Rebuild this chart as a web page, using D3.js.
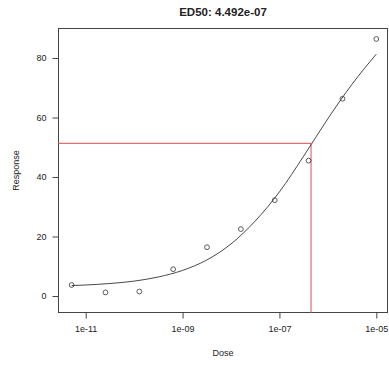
<!DOCTYPE html>
<html>
<head>
<meta charset="utf-8">
<script src="https://cdn.jsdelivr.net/npm/d3@7"></script>
<style>
  body { margin: 0; background: #fff; }
  text { font-family: "Liberation Sans", Arial, sans-serif; fill: #222; }
</style>
</head>
<body>
<div id="chart"></div>
<script>
// observed points
const dose = [5.12e-12, 2.56e-11, 1.28e-10, 6.4e-10, 3.2e-9, 1.6e-8, 8e-8, 4e-7, 2e-6, 1e-5];
const response = [3.7, 1.2, 1.5, 9.0, 16.4, 22.5, 32.2, 45.5, 66.3, 86.4];

// fitted curve (half-decade steps)
const curveDose = [5.12e-12, 1e-11, 3.16e-11, 1e-10, 3.16e-10, 1e-9, 3.16e-9, 1e-8, 3.16e-8, 1e-7, 3.16e-7, 1e-6, 3.16e-6, 1e-5];
const curveResp = [3.5, 3.7, 4.2, 5.0, 6.4, 8.6, 12.1, 17.5, 25.2, 35.0, 47.0, 59.6, 71.2, 81.3];

const ed50 = 4.492e-7;
const ed50Resp = 51.3;

const xTicks = [1e-11, 1e-9, 1e-7, 1e-5];
const xTickLabels = ["1e-11", "1e-09", "1e-07", "1e-05"];
const yTicks = [0, 20, 40, 60, 80];

const width = 389, height = 366;
const box = { left: 58.5, right: 387.5, top: 28.5, bottom: 312.5 };

const svg = d3.select("#chart").append("svg")
  .attr("width", width)
  .attr("height", height);

// scales
const x = d3.scaleLog()
  .domain([1e-11, 1e-5])
  .range([85.7, 376.3]);

const y = d3.scaleLinear()
  .domain([0, 80])
  .range([296, 58]);

// title
svg.append("text")
  .attr("x", (box.left + box.right) / 2)
  .attr("y", 16)
  .attr("text-anchor", "middle")
  .style("font-size", "11.5px")
  .style("font-weight", "bold")
  .text("ED50: " + ed50.toExponential(3).replace("e-", "e-0"));

// box
svg.append("rect")
  .attr("x", box.left)
  .attr("y", box.top)
  .attr("width", box.right - box.left)
  .attr("height", box.bottom - box.top)
  .attr("fill", "none")
  .attr("stroke", "#444")
  .attr("stroke-width", 1);

// X axis
const xAxis = svg.append("g")
  .attr("transform", "translate(0," + box.bottom + ")")
  .call(d3.axisBottom(x).tickValues(xTicks)
    .tickFormat((d, i) => xTickLabels[i]).tickSize(6).tickPadding(7));
xAxis.select(".domain").remove();
xAxis.selectAll("line").attr("stroke", "#444");
xAxis.selectAll("text").style("font-size", "9px").style("font-family", "Liberation Sans, Arial, sans-serif").attr("fill", "#222");

// Y axis
const yAxis = svg.append("g")
  .attr("transform", "translate(" + box.left + ",0)")
  .call(d3.axisLeft(y).tickValues(yTicks).tickSize(6).tickPadding(6));
yAxis.select(".domain").remove();
yAxis.selectAll("line").attr("stroke", "#444");
yAxis.selectAll("text").style("font-size", "9px").style("font-family", "Liberation Sans, Arial, sans-serif").attr("fill", "#222");

// axis titles
svg.append("text")
  .attr("x", (box.left + box.right) / 2)
  .attr("y", 356)
  .attr("text-anchor", "middle")
  .style("font-size", "9px")
  .text("Dose");

svg.append("text")
  .attr("transform", "translate(19," + (box.top + box.bottom) / 2 + ") rotate(-90)")
  .attr("text-anchor", "middle")
  .style("font-size", "9px")
  .text("Response");

// ED50 guide lines
svg.append("line")
  .attr("x1", box.left).attr("x2", x(ed50))
  .attr("y1", y(ed50Resp)).attr("y2", y(ed50Resp))
  .attr("stroke", "#e07070").attr("stroke-width", 1.2);
svg.append("line")
  .attr("x1", x(ed50)).attr("x2", x(ed50))
  .attr("y1", box.bottom).attr("y2", y(ed50Resp))
  .attr("stroke", "#e07070").attr("stroke-width", 1.2);

// fitted curve
const line = d3.line()
  .x((d, i) => x(curveDose[i]))
  .y(d => y(d))
  .curve(d3.curveMonotoneX);

svg.append("path")
  .datum(curveResp)
  .attr("d", line)
  .attr("fill", "none")
  .attr("stroke", "#333")
  .attr("stroke-width", 0.9);

// points
svg.append("g")
  .selectAll("circle")
  .data(response).enter()
  .append("circle")
  .attr("cx", (d, i) => x(dose[i]))
  .attr("cy", d => y(d))
  .attr("r", 2.4)
  .attr("fill", "none")
  .attr("stroke", "#333")
  .attr("stroke-width", 0.8);
</script>
</body>
</html>
